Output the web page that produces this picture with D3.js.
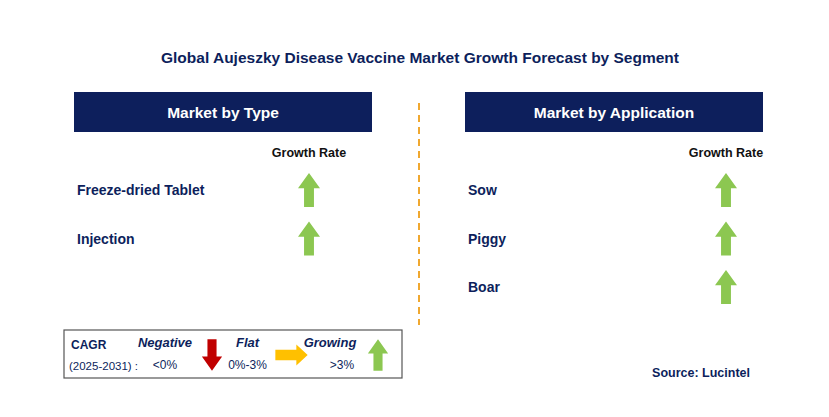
<!DOCTYPE html>
<html><head><meta charset="utf-8">
<script src="https://cdn.jsdelivr.net/npm/d3@7"></script>
<style>body{margin:0;background:#fff}svg{display:block;font-family:Arial,"Liberation Sans",sans-serif}</style>
</head><body><svg id="c" width="829" height="417"></svg>
<script>
const title = "Global Aujeszky Disease Vaccine Market Growth Forecast by Segment";
const typeSegments = ["Freeze-dried Tablet", "Injection"];
const typeGrowth = ["Growing", "Growing"];
const appSegments = ["Sow", "Piggy", "Boar"];
const appGrowth = ["Growing", "Growing", "Growing"];
const legendItems = [
  {label: "Negative", range: "<0%", kind: "Negative"},
  {label: "Flat", range: "0%-3%", kind: "Flat"},
  {label: "Growing", range: ">3%", kind: "Growing"}
];
const navy = "#0d1f5c", green = "#8cc751", red = "#c00000", orange = "#ffc000";
const svg = d3.select("#c");

svg.append("text").attr("x", 420).attr("y", 63).attr("text-anchor", "middle")
  .attr("font-size", 15.5).attr("font-weight", "bold").attr("fill", navy).text(title);

// divider
svg.append("line").attr("x1", 419).attr("x2", 419).attr("y1", 103).attr("y2", 325)
  .attr("stroke", "#f0a830").attr("stroke-width", 2).attr("stroke-dasharray", "7,5");

function upArrow(g, cx, cy, w, h, col) {
  const sw = w * 0.45, hh = h * 0.45;
  g.append("path").attr("fill", col).attr("d",
    `M${cx},${cy - h/2} L${cx + w/2},${cy - h/2 + hh} L${cx + sw/2},${cy - h/2 + hh} L${cx + sw/2},${cy + h/2} L${cx - sw/2},${cy + h/2} L${cx - sw/2},${cy - h/2 + hh} L${cx - w/2},${cy - h/2 + hh} Z`);
}
function downArrow(g, cx, cy, w, h, col) {
  const sw = w * 0.45, hh = h * 0.45;
  g.append("path").attr("fill", col).attr("d",
    `M${cx},${cy + h/2} L${cx + w/2},${cy + h/2 - hh} L${cx + sw/2},${cy + h/2 - hh} L${cx + sw/2},${cy - h/2} L${cx - sw/2},${cy - h/2} L${cx - sw/2},${cy + h/2 - hh} L${cx - w/2},${cy + h/2 - hh} Z`);
}
function rightArrow(g, cx, cy, w, h, col) {
  const sh = h * 0.5, hw = w * 0.35;
  g.append("path").attr("fill", col).attr("d",
    `M${cx + w/2},${cy} L${cx + w/2 - hw},${cy - h/2} L${cx + w/2 - hw},${cy - sh/2} L${cx - w/2},${cy - sh/2} L${cx - w/2},${cy + sh/2} L${cx + w/2 - hw},${cy + sh/2} L${cx + w/2 - hw},${cy + h/2} Z`);
}
function drawArrow(g, kind, cx, cy, s) {
  if (kind === "Growing") upArrow(g, cx, cy, 22 * s, 34 * s, green);
  else if (kind === "Negative") downArrow(g, cx, cy, 22 * s, 34 * s, red);
  else rightArrow(g, cx, cy, 34 * s, 22 * s, orange);
}

function panel(x0, header, segs, growth, arrowX) {
  const g = svg.append("g");
  g.append("rect").attr("x", x0).attr("y", 92).attr("width", 298).attr("height", 40).attr("fill", navy);
  g.append("text").attr("x", x0 + 149).attr("y", 118).attr("text-anchor", "middle")
    .attr("fill", "#fff").attr("font-size", 15.5).attr("font-weight", "bold").text(header);
  g.append("text").attr("x", arrowX).attr("y", 157).attr("text-anchor", "middle")
    .attr("font-size", 12.5).attr("font-weight", "bold").attr("fill", "#111").text("Growth Rate");
  const y = d3.scalePoint().domain(segs).range([190, 190 + 48.5 * (segs.length - 1)]);
  segs.forEach((s, i) => {
    g.append("text").attr("x", x0 + 3).attr("y", y(s) + 5).attr("font-size", 14)
      .attr("font-weight", "bold").attr("fill", navy).text(s);
    drawArrow(g, growth[i], arrowX, y(s), 1);
  });
}
panel(74, "Market by Type", typeSegments, typeGrowth, 309);
panel(465, "Market by Application", appSegments, appGrowth, 726);

// legend
const lg = svg.append("g");
lg.append("rect").attr("x", 64).attr("y", 330).attr("width", 338).attr("height", 48)
  .attr("fill", "#fff").attr("stroke", "#555").attr("stroke-width", 1.2);
lg.append("text").attr("x", 71).attr("y", 349).attr("font-size", 12).attr("font-weight", "bold").attr("fill", navy).text("CAGR");
lg.append("text").attr("x", 69).attr("y", 370).attr("font-size", 11.5).attr("fill", navy).text("(2025-2031) :");
const lx = d3.scalePoint().domain(legendItems.map(d => d.kind)).range([165, 330]);
const arrowOff = {Negative: 47, Flat: 44, Growing: 48};
legendItems.forEach(d => {
  const x = lx(d.kind);
  lg.append("text").attr("x", x).attr("y", 347).attr("text-anchor", "middle").attr("font-size", 13)
    .attr("font-weight", "bold").attr("font-style", "italic").attr("fill", navy).text(d.label);
  lg.append("text").attr("x", x + (d.kind === "Growing" ? 12 : 0)).attr("y", 369).attr("text-anchor", "middle")
    .attr("font-size", 12).attr("fill", navy).text(d.range);
  drawArrow(lg, d.kind, x + arrowOff[d.kind], 355, d.kind === "Flat" ? 0.95 : 0.92);
});

svg.append("text").attr("x", 750).attr("y", 377).attr("text-anchor", "end").attr("font-size", 12.5)
  .attr("font-weight", "bold").attr("fill", navy).text("Source: Lucintel");
</script></body></html>
